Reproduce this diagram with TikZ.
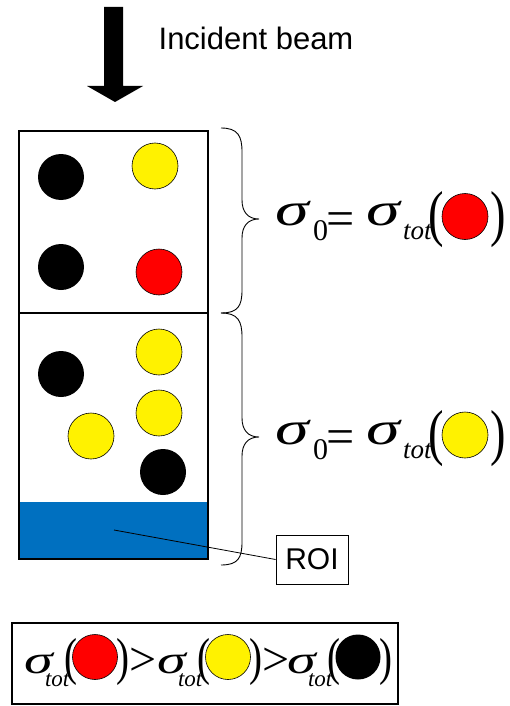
\documentclass[tikz,border=0pt]{standalone}
\usepackage{graphicx}
\usepackage{fontspec}
\setmainfont{Liberation Serif}
\newfontfamily\arialfont{Liberation Sans}
% wide sigma and slim tall parentheses
\newcommand\wsig{\scalebox{1.45}[1]{σ}}
\newcommand\slimlp{\scalebox{0.75}[1]{(}}
\newcommand\slimrp{\scalebox{0.75}[1]{)}}
\begin{document}
\begin{tikzpicture}[x=1pt,y=-1pt,
  ball/.style={circle, minimum size=46pt, inner sep=0pt},
  blackball/.style={ball, fill=black},
  yellowball/.style={ball, fill=yellow, draw=black, line width=0.6pt},
  redball/.style={ball, fill=red, draw=black, line width=0.6pt},
  glyph/.style={inner sep=0pt, outer sep=0pt, anchor=base west},
  bigsym/.style={glyph, font=\fontsize{47}{47}\selectfont\itshape},
  eqsym/.style={glyph, font=\fontsize{50}{50}\selectfont},
  zerosym/.style={glyph, font=\fontsize{30}{30}\selectfont},
  subsym/.style={glyph, font=\fontsize{27}{27}\selectfont\itshape},
  parsym/.style={glyph, font=\fontsize{62}{62}\selectfont},
  smallsym/.style={glyph, font=\fontsize{40}{40}\selectfont\itshape},
  smallsub/.style={glyph, font=\fontsize{23}{23}\selectfont\itshape},
  smallpar/.style={glyph, font=\fontsize{52}{52}\selectfont},
  gtsym/.style={glyph, font=\fontsize{48}{48}\selectfont},
  label/.style={inner sep=0pt, font=\arialfont\fontsize{31}{31}\selectfont},
  sample/.style={draw=black, line width=1.3pt},
  brace/.style={draw=black, line width=0.9pt},
]
\useasboundingbox (0,0) rectangle (509,706);

% incident beam arrow
\fill[black] (104,7) -- (123,7) -- (123,86) -- (143,86) -- (115,102)
  -- (87,86) -- (104,86) -- cycle;
\node[label] (beam) at (256,38) {Incident beam};

% sample: two slabs and the ROI layer
\fill[fill={rgb,255:red,0;green,112;blue,192}] (20,502) rectangle (208,559);
\node[sample, minimum width=189pt, minimum height=182pt, inner sep=0pt]
  (slabA) at (113.5,222) {};
\node[sample, minimum width=189pt, minimum height=246pt, inner sep=0pt]
  (slabB) at (113.5,436) {};

% particles in the upper slab
\node[blackball]  (a1) at (61,177) {};
\node[yellowball] (a2) at (155,166) {};
\node[blackball]  (a3) at (61,267) {};
\node[redball]    (a4) at (159,272) {};

% particles in the lower slab
\node[yellowball] (b1) at (159,352) {};
\node[blackball]  (b2) at (61,374) {};
\node[yellowball] (b3) at (159,413) {};
\node[yellowball] (b4) at (91,436) {};
\node[blackball]  (b5) at (163,472) {};

% curly braces
\draw[brace] (221,128) .. controls (238,128) and (242,136) .. (242,152)
  -- (242,200) .. controls (242,212) and (248,219) .. (259,219)
  .. controls (248,219) and (242,226) .. (242,238)
  -- (242,290) .. controls (242,306) and (238,313) .. (221,313);
\draw[brace] (221,313) .. controls (238,313) and (242,321) .. (242,337)
  -- (242,418) .. controls (242,430) and (248,437) .. (259,437)
  .. controls (248,437) and (242,444) .. (242,456)
  -- (242,542) .. controls (242,558) and (238,565) .. (221,565);

% sigma_0 = sigma_tot(red)
\begin{scope}[shift={(465,216.5)}, name prefix=fa-]
  \node[bigsym]  (s1) at (-190,9)   {\wsig};
  \node[zerosym] (z)  at (-152,24)  {0};
  \node[eqsym]   (eq) at (-139,18.5) {=};
  \node[bigsym]  (s2) at (-99,9)    {\wsig};
  \node[subsym]  (t)  at (-62,23)   {tot};
  \node[parsym]  (lp) at (-37,18)   {\slimlp};
  \node[redball] (c)  at (0,0) {};
  \node[parsym]  (rp) at (25.5,18)  {\slimrp};
\end{scope}

% sigma_0 = sigma_tot(yellow)
\begin{scope}[shift={(465,435)}, name prefix=fb-]
  \node[bigsym]  (s1) at (-190,9)   {\wsig};
  \node[zerosym] (z)  at (-152,24)  {0};
  \node[eqsym]   (eq) at (-139,18.5) {=};
  \node[bigsym]  (s2) at (-99,9)    {\wsig};
  \node[subsym]  (t)  at (-62,23)   {tot};
  \node[parsym]  (lp) at (-37,18)   {\slimlp};
  \node[yellowball] (c) at (0,0) {};
  \node[parsym]  (rp) at (25.5,18)  {\slimrp};
\end{scope}

% ROI label
\node[draw=black, line width=0.8pt, minimum width=72pt, minimum height=49pt,
  inner sep=0pt, font=\arialfont\fontsize{30}{30}\selectfont] (roi) at (312,559.5) {ROI};
\coordinate (roiin) at (114,530);
\draw[line width=0.8pt] (roiin) -- (roi.west);

% ordering of the total cross sections
\node[draw=black, line width=2pt, minimum width=386pt, minimum height=81pt,
  inner sep=0pt] (order) at (205,663.5) {};
\begin{scope}[shift={(95,657)}, name prefix=oa-]
  \node[smallsym] (s)  at (-71,16) {\wsig};
  \node[smallsub] (t)  at (-50,29) {tot};
  \node[smallpar] (lp) at (-31,17) {\slimlp};
  \node[redball, minimum size=45pt] (c) at (0,0) {};
  \node[smallpar] (rp) at (21,17)  {\slimrp};
  \node[gtsym]    (gt) at (34,18)  {>};
\end{scope}
\begin{scope}[shift={(228,657)}, name prefix=ob-]
  \node[smallsym] (s)  at (-71,16) {\wsig};
  \node[smallsub] (t)  at (-50,29) {tot};
  \node[smallpar] (lp) at (-31,17) {\slimlp};
  \node[yellowball, minimum size=45pt] (c) at (0,0) {};
  \node[smallpar] (rp) at (21,17)  {\slimrp};
  \node[gtsym]    (gt) at (34,18)  {>};
\end{scope}
\begin{scope}[shift={(358,657)}, name prefix=oc-]
  \node[smallsym] (s)  at (-71,16) {\wsig};
  \node[smallsub] (t)  at (-50,29) {tot};
  \node[smallpar] (lp) at (-31,17) {\slimlp};
  \node[blackball, minimum size=45pt] (c) at (0,0) {};
  \node[smallpar] (rp) at (21,17)  {\slimrp};
\end{scope}
\end{tikzpicture}
\end{document}
